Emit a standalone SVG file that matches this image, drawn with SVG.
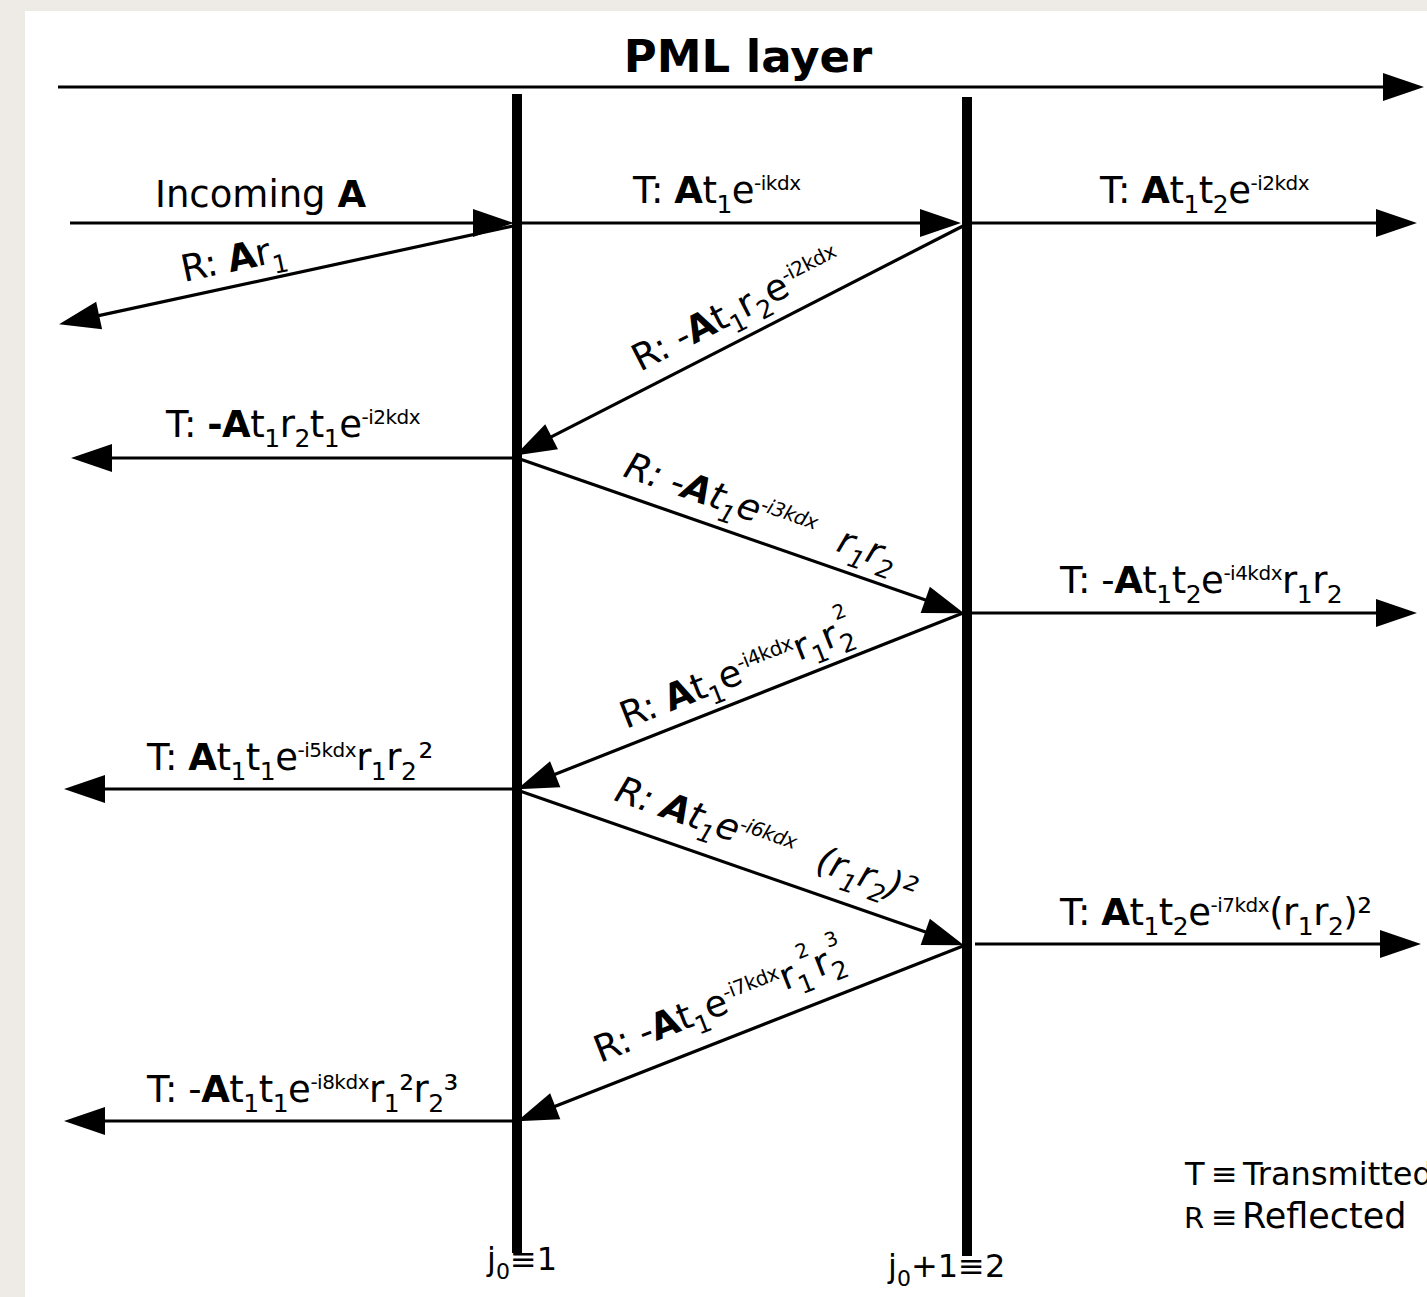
<svg xmlns="http://www.w3.org/2000/svg" width="1427" height="1297" viewBox="0 0 1427 1297">
<style>
.t{font-family:"DejaVu Sans","Liberation Sans",sans-serif;font-size:37px;fill:#000;letter-spacing:-0.5px}
.b{font-weight:bold}
.sub{font-size:25px}
.sup{font-size:20px}
.it{font-style:oblique}
.ln{stroke:#000;stroke-width:3.2;fill:none;marker-end:url(#ah)}
.bar{stroke:#000;stroke-width:10}
</style>
<defs>
<marker id="ah" markerUnits="userSpaceOnUse" markerWidth="42" markerHeight="30" refX="30" refY="14" orient="auto" overflow="visible">
<path d="M0,0 L41,14 L0,28 z" fill="#000"/>
</marker>
</defs>
<rect x="0" y="0" width="1427" height="1297" fill="#eeebe7"/>
<rect x="25" y="11" width="1402" height="1286" fill="#fff"/>

<g id="title">
<text class="t b" x="748" y="72" text-anchor="middle" style="font-size:45px;letter-spacing:0">PML layer</text>
</g>

<g id="interface1"><line class="bar" x1="517" y1="94" x2="517" y2="1253"/></g>
<g id="interface2"><line class="bar" x1="967" y1="97" x2="967" y2="1256"/></g>

<g id="connectors">
<line class="ln" x1="58" y1="87" x2="1413" y2="87"/>
<line class="ln" x1="70" y1="223" x2="503" y2="223"/>
<line class="ln" x1="513" y1="226" x2="69.8" y2="321.9"/>
<line class="ln" x1="522" y1="223" x2="950" y2="223"/>
<line class="ln" x1="972" y1="223" x2="1406" y2="223"/>
<line class="ln" x1="963" y1="226" x2="524.9" y2="450.4"/>
<line class="ln" x1="517" y1="458" x2="82" y2="458"/>
<line class="ln" x1="517" y1="458" x2="953.6" y2="609.7"/>
<line class="ln" x1="972" y1="613" x2="1406" y2="613"/>
<line class="ln" x1="963" y1="613" x2="527.3" y2="785.3"/>
<line class="ln" x1="517" y1="789" x2="75" y2="789"/>
<line class="ln" x1="517" y1="790" x2="953.6" y2="941.7"/>
<line class="ln" x1="975" y1="944" x2="1410" y2="944"/>
<line class="ln" x1="963" y1="946" x2="527.3" y2="1117.3"/>
<line class="ln" x1="517" y1="1121" x2="75" y2="1121"/>
</g>

<g id="label-incoming">
<text class="t" x="155" y="207" style="letter-spacing:0">Incoming <tspan class="b">A</tspan></text>
</g>
<g id="label-r1">
<text class="t" transform="translate(184,282) rotate(-12)">R: <tspan class="b">A</tspan>r<tspan class="sub" dy="11">1</tspan></text>
</g>
<g id="label-t1">
<text class="t" x="633" y="203">T: <tspan class="b">A</tspan>t<tspan class="sub" dy="10">1</tspan><tspan dy="-10">e</tspan><tspan class="sup" dy="-13">-ikdx</tspan></text>
</g>
<g id="label-t2">
<text class="t" x="1100" y="203">T: <tspan class="b">A</tspan>t<tspan class="sub" dy="10">1</tspan><tspan dy="-10">t</tspan><tspan class="sub" dy="10">2</tspan><tspan dy="-10">e</tspan><tspan class="sup" dy="-13">-i2kdx</tspan></text>
</g>
<g id="label-r2">
<text class="t" transform="translate(640,372) rotate(-27.2)">R: -<tspan class="b">A</tspan>t<tspan class="sub" dy="10">1</tspan><tspan dy="-10">r</tspan><tspan class="sub" dy="10">2</tspan><tspan dy="-10">e</tspan><tspan class="sup" dy="-13">-i2kdx</tspan></text>
</g>
<g id="label-t3">
<text class="t" x="166" y="437">T: <tspan class="b">-A</tspan>t<tspan class="sub" dy="10">1</tspan><tspan dy="-10">r</tspan><tspan class="sub" dy="10">2</tspan><tspan dy="-10">t</tspan><tspan class="sub" dy="10">1</tspan><tspan dy="-10">e</tspan><tspan class="sup" dy="-13">-i2kdx</tspan></text>
</g>
<g id="label-r3">
<text class="t it" transform="translate(622,476) rotate(19.3)">R: -<tspan class="b">A</tspan>t<tspan class="sub" dy="10">1</tspan><tspan dy="-10">e</tspan><tspan class="sup" dy="-13">-i3kdx</tspan><tspan dy="13" dx="26">r</tspan><tspan class="sub" dy="10">1</tspan><tspan dy="-10">r</tspan><tspan class="sub" dy="10">2</tspan></text>
</g>
<g id="label-t4">
<text class="t" x="1060" y="593">T: -<tspan class="b">A</tspan>t<tspan class="sub" dy="10">1</tspan><tspan dy="-10">t</tspan><tspan class="sub" dy="10">2</tspan><tspan dy="-10">e</tspan><tspan class="sup" dy="-13">-i4kdx</tspan><tspan dy="13">r</tspan><tspan class="sub" dy="10">1</tspan><tspan dy="-10">r</tspan><tspan class="sub" dy="10">2</tspan></text>
</g>
<g id="label-r4">
<text class="t" transform="translate(626,729) rotate(-21.5)">R: <tspan class="b">A</tspan>t<tspan class="sub" dy="10">1</tspan><tspan dy="-10">e</tspan><tspan class="sup" dy="-13">-i4kdx</tspan><tspan dy="13">r</tspan><tspan class="sub" dy="10">1</tspan><tspan dy="-10">r</tspan><tspan class="sub" dy="10">2</tspan><tspan class="sup" dx="-11" dy="-34">2</tspan></text>
</g>
<g id="label-t5">
<text class="t" x="147" y="770">T: <tspan class="b">A</tspan>t<tspan class="sub" dy="10">1</tspan><tspan dy="-10">t</tspan><tspan class="sub" dy="10">1</tspan><tspan dy="-10">e</tspan><tspan class="sup" dy="-13">-i5kdx</tspan><tspan dy="13">r</tspan><tspan class="sub" dy="10">1</tspan><tspan dy="-10">r</tspan><tspan class="sub" dy="10">2</tspan><tspan dy="-10" dx="2">²</tspan></text>
</g>
<g id="label-r5">
<text class="t it" transform="translate(613,800) rotate(19.2)">R: <tspan class="b">A</tspan>t<tspan class="sub" dy="10">1</tspan><tspan dy="-10">e</tspan><tspan class="sup" dy="-13">-i6kdx</tspan><tspan dy="13" dx="26">(r</tspan><tspan class="sub" dy="10">1</tspan><tspan dy="-10">r</tspan><tspan class="sub" dy="10">2</tspan><tspan dy="-10">)²</tspan></text>
</g>
<g id="label-t6">
<text class="t" x="1060" y="925">T: <tspan class="b">A</tspan>t<tspan class="sub" dy="10">1</tspan><tspan dy="-10">t</tspan><tspan class="sub" dy="10">2</tspan><tspan dy="-10">e</tspan><tspan class="sup" dy="-13">-i7kdx</tspan><tspan dy="13">(r</tspan><tspan class="sub" dy="10">1</tspan><tspan dy="-10">r</tspan><tspan class="sub" dy="10">2</tspan><tspan dy="-10">)²</tspan></text>
</g>
<g id="label-r6">
<text class="t" transform="translate(600,1063) rotate(-21.4)">R: -<tspan class="b">A</tspan>t<tspan class="sub" dy="10">1</tspan><tspan dy="-10">e</tspan><tspan class="sup" dy="-13">-i7kdx</tspan><tspan dy="13">r</tspan><tspan class="sub" dy="10">1</tspan><tspan class="sup" dx="-6" dy="-34">2</tspan><tspan dy="24">r</tspan><tspan class="sub" dy="10">2</tspan><tspan class="sup" dx="-11" dy="-34">3</tspan></text>
</g>
<g id="label-t7">
<text class="t" x="147" y="1102">T: -<tspan class="b">A</tspan>t<tspan class="sub" dy="10">1</tspan><tspan dy="-10">t</tspan><tspan class="sub" dy="10">1</tspan><tspan dy="-10">e</tspan><tspan class="sup" dy="-13">-i8kdx</tspan><tspan dy="13">r</tspan><tspan class="sub" dy="10">1</tspan><tspan dy="-10">²r</tspan><tspan class="sub" dy="10">2</tspan><tspan dy="-10">³</tspan></text>
</g>

<g id="label-j1">
<text class="t" x="487" y="1270" style="font-size:32px;letter-spacing:0">j<tspan class="sub" style="font-size:22px" dy="9">0</tspan><tspan dy="-9">≡1</tspan></text>
</g>
<g id="label-j2">
<text class="t" x="888" y="1277" style="font-size:32px;letter-spacing:0">j<tspan class="sub" style="font-size:22px" dy="9">0</tspan><tspan dy="-9">+1≡2</tspan></text>
</g>

<g id="legend">
<text class="t" style="font-size:32px;letter-spacing:0" x="1185" y="1185">T</text>
<text class="t" style="font-size:32px;letter-spacing:0" x="1211" y="1185">≡</text>
<text class="t" style="font-size:32px;letter-spacing:0" x="1243" y="1185">Transmitted</text>
<text class="t" style="font-size:29px;letter-spacing:0" x="1184" y="1228">R</text>
<text class="t" style="font-size:32px;letter-spacing:0" x="1211" y="1228">≡</text>
<text class="t" style="font-size:35px;letter-spacing:0" x="1242" y="1228">Reflected</text>
</g>
</svg>
